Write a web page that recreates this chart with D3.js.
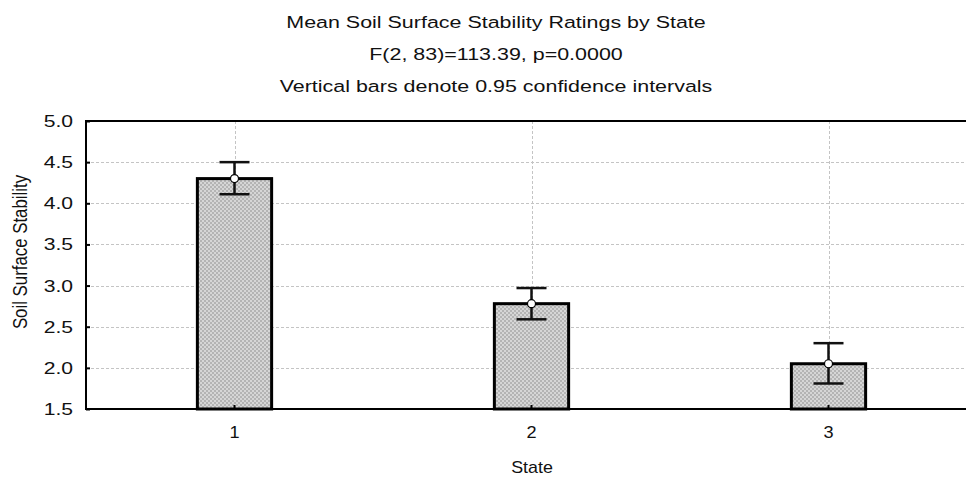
<!DOCTYPE html>
<html>
<head>
<meta charset="utf-8">
<script src="https://cdn.jsdelivr.net/npm/d3@7"></script>
<style>
  html, body { margin: 0; padding: 0; background: #fff; }
  svg { display: block; font-family: "Liberation Sans", Arial, sans-serif; }
</style>
</head>
<body>
<svg id="chart" width="966" height="479"></svg>
<script>
// State means of soil surface stability with 0.95 confidence limits
const states = ["1", "2", "3"];
const means = [4.30, 2.78, 2.05];
const ciLower = [4.11, 2.59, 1.81];
const ciUpper = [4.50, 2.97, 2.30];
const yTicks = [1.5, 2.0, 2.5, 3.0, 3.5, 4.0, 4.5, 5.0];
const titleLines = [
  "Mean Soil Surface Stability Ratings by State",
  "F(2, 83)=113.39, p=0.0000",
  "Vertical bars denote 0.95 confidence intervals"
];

const svg = d3.select("#chart");
const margin = { left: 86, top: 121, bottom: 409 };

const x = d3.scaleBand().domain(states).range([margin.left, 977]).paddingInner(0).paddingOuter(0);
const y = d3.scaleLinear().domain([1.5, 5.0]).range([margin.bottom, margin.top]);
const barW = x.bandwidth() * 0.25;
const cx = d => x(d) + x.bandwidth() / 2;
const fmt = d3.format(".1f");

// wide-set label text: draws at (px, py) stretched horizontally by sx
function label(g, px, py, str, size, sx, anchor) {
  return g.append("text")
    .attr("transform", `translate(${px},${py}) scale(${sx},1)`)
    .attr("text-anchor", anchor).attr("font-size", size).attr("fill", "#111")
    .text(str);
}

// dithered grey fill for the bars
const defs = svg.append("defs");
const pat = defs.append("pattern").attr("id", "dither")
  .attr("patternUnits", "userSpaceOnUse").attr("width", 4).attr("height", 4);
pat.append("rect").attr("width", 4).attr("height", 4).attr("fill", "#d6d6d6");
pat.append("rect").attr("x", 0).attr("y", 0).attr("width", 2).attr("height", 2).attr("fill", "#b4b4b4");
pat.append("rect").attr("x", 2).attr("y", 2).attr("width", 2).attr("height", 2).attr("fill", "#b4b4b4");

// titles
const gt = svg.append("g");
titleLines.forEach((t, i) => label(gt, 496, 28 + i * 32, t, 16.5, 1.3, "middle"));

// grid lines
svg.append("g").selectAll("line").data(yTicks.slice(1, -1)).join("line")
  .attr("x1", margin.left).attr("x2", 966)
  .attr("y1", d => Math.round(y(d)) + 0.5).attr("y2", d => Math.round(y(d)) + 0.5)
  .attr("stroke", "#c4c4c4").attr("stroke-dasharray", "3,2");
svg.append("g").selectAll("line").data(states).join("line")
  .attr("x1", d => Math.round(cx(d)) + 0.5).attr("x2", d => Math.round(cx(d)) + 0.5)
  .attr("y1", margin.top).attr("y2", margin.bottom)
  .attr("stroke", "#c4c4c4").attr("stroke-dasharray", "3,2");

// bars
svg.append("g").selectAll("rect").data(states).join("rect")
  .attr("x", d => cx(d) - barW / 2)
  .attr("y", (d, i) => y(means[i]))
  .attr("width", barW)
  .attr("height", (d, i) => y(1.5) - y(means[i]))
  .attr("fill", "url(#dither)")
  .attr("stroke", "#000").attr("stroke-width", 3);

// confidence interval whiskers
const eb = svg.append("g").attr("stroke", "#111").attr("stroke-width", 2.5);
states.forEach((s, i) => {
  const c = cx(s);
  eb.append("line").attr("x1", c).attr("x2", c).attr("y1", y(ciUpper[i])).attr("y2", y(ciLower[i]));
  eb.append("line").attr("x1", c - 15).attr("x2", c + 15).attr("y1", y(ciUpper[i])).attr("y2", y(ciUpper[i]));
  eb.append("line").attr("x1", c - 15).attr("x2", c + 15).attr("y1", y(ciLower[i])).attr("y2", y(ciLower[i]));
});

// mean markers
svg.append("g").selectAll("circle").data(states).join("circle")
  .attr("cx", d => cx(d)).attr("cy", (d, i) => y(means[i])).attr("r", 4)
  .attr("fill", "#fff").attr("stroke", "#000").attr("stroke-width", 1.2);

// frame: left, top and bottom axis lines
const frame = svg.append("g").attr("stroke", "#000").attr("stroke-width", 2);
frame.append("line").attr("x1", margin.left).attr("x2", 966).attr("y1", margin.top).attr("y2", margin.top);
frame.append("line").attr("x1", margin.left).attr("x2", 966).attr("y1", margin.bottom).attr("y2", margin.bottom);
frame.append("line").attr("x1", margin.left).attr("x2", margin.left).attr("y1", margin.top - 1).attr("y2", margin.bottom + 1);

// y axis ticks and labels
const yAxis = d3.axisLeft(y).tickValues(yTicks).tickFormat("").tickSize(-4);
const gy = svg.append("g").attr("transform", `translate(${margin.left},0)`).call(yAxis);
gy.select(".domain").remove();
gy.selectAll(".tick line").attr("stroke", "#000").attr("stroke-width", 2);
const gyl = svg.append("g");
yTicks.forEach(v => label(gyl, 73, y(v) + 6, fmt(v), 16.5, 1.28, "end"));

// x axis ticks and labels
const xAxis = d3.axisBottom(x).tickFormat("").tickSize(-4);
const gx = svg.append("g").attr("transform", `translate(0,${margin.bottom})`).call(xAxis);
gx.select(".domain").remove();
gx.selectAll(".tick line").attr("stroke", "#000").attr("stroke-width", 2);
const gxl = svg.append("g");
states.forEach(s => label(gxl, cx(s), 438, s, 16.5, 1.1, "middle"));

// axis titles
label(svg.append("g"), 532, 473, "State", 17, 1.05, "middle");
svg.append("text").attr("transform", "translate(27,252) rotate(-90) scale(1.02,1.2)")
  .attr("text-anchor", "middle").attr("font-size", 16.5).attr("fill", "#111")
  .text("Soil Surface Stability");
</script>
</body>
</html>
